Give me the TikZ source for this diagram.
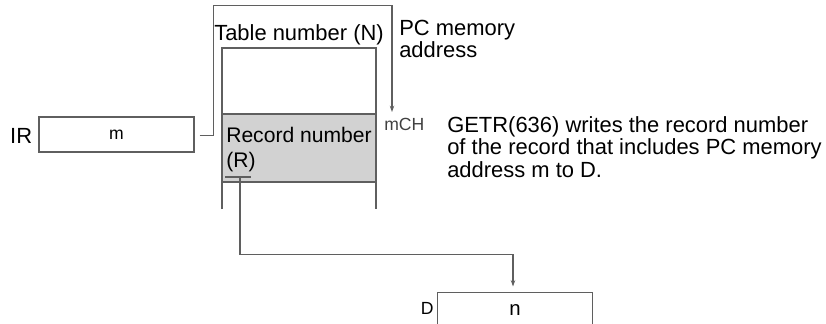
\documentclass[tikz,border=0pt]{standalone}
\usepackage{fontspec}
\setmainfont{Liberation Sans}
\usetikzlibrary{arrows.meta, positioning, calc}
\definecolor{wiregray}{RGB}{95,95,95}
\definecolor{recshade}{RGB}{210,210,210}

\begin{document}
\begin{tikzpicture}[x=0.025cm, y=-0.025cm, font=\fontsize{15.6}{16}\selectfont,
    wire/.style={draw=wiregray, line width=0.8pt},
    tip/.style={-{Stealth[length=4.5pt, width=3.2pt]}},
    regbox/.style={wire, minimum width=3.875cm, minimum height=0.875cm, inner sep=0pt}]
    \useasboundingbox (0,0) rectangle (826,323);
    % source register
    \node[regbox, font=\fontsize{12.5}{12.5}\selectfont] (irbox) at (116.5,134.5) {m};
    \node[anchor=base east, inner sep=0pt] (irlabel) at ($(irbox.west)+(-6,8.5)$) {IR};
    % table in PC memory
    \draw[wire] (222,209) -- (222,48) -- (376,48) -- (376,209);
    \draw[wire, fill=recshade] (222,114) rectangle (376,182);
    \node[anchor=base west, inner sep=0pt] (tabletitle) at (214,40) {Table number (N)};
    \node[anchor=north west, align=left, inner sep=0pt, font=\fontsize{15}{17.5}\selectfont]
      (rectext) at (226,127) {Record number\\(R)};
    \node[anchor=base west, font=\fontsize{12.5}{12.5}\selectfont, text=black!75, inner sep=0pt]
      (mch) at (384,130) {mCH};
    \node[anchor=north west, align=left, inner sep=0pt, font=\fontsize{15.6}{14.3}\selectfont]
      (pcaddr) at (399,20) {PC memory\\address};
    % destination word
    \node[regbox, font=\fontsize{14.5}{14.5}\selectfont] (dbox) at (515,310) {n};
    \node[anchor=base east, font=\fontsize{12.5}{12.5}\selectfont, inner sep=0pt]
      (dlabel) at ($(dbox.north west)+(-3,23)$) {D};
    % note
    \node[anchor=north west, align=left, inner sep=0pt] (note) at (447,116)
      {GETR(636) writes the record number\\of the record that includes PC memory\\address m to D.};
    % connectors
    \coordinate (irout) at ($(irbox.east)+(5,1)$);
    \coordinate (mptr) at (392,112);
    \draw[wire, tip] (irout) -- ++(14,0) |- ($(mptr)+(0,-106.5)$) -- (mptr);
    \coordinate (rsel) at (240,177);
    \draw[wire] ($(rsel)+(-15,0)$) -- ($(rsel)+(11,0)$);
    \coordinate (dtop) at ($(dbox.north)+(-2,-5.5)$);
    \draw[wire, tip] (rsel) |- ($(dtop)+(0,-32)$) -- (dtop);
\end{tikzpicture}
\end{document}
